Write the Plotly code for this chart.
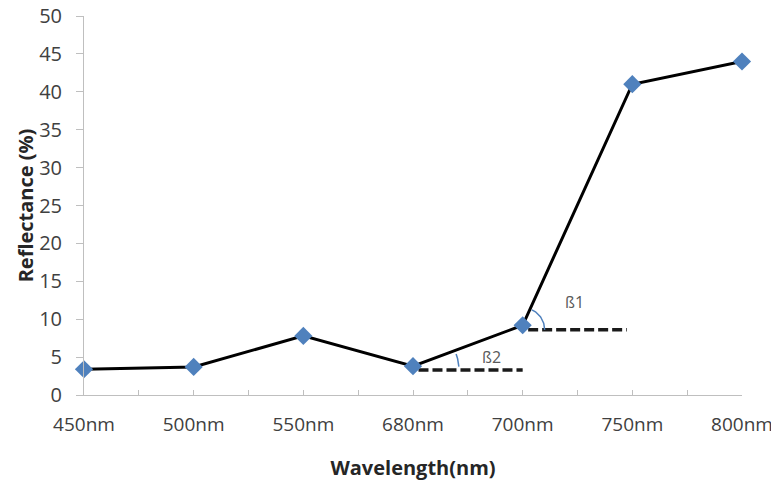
import numpy as np
import plotly.graph_objects as go

categories = ["450nm", "500nm", "550nm", "680nm", "700nm", "750nm", "800nm"]
reflectance = [3.4, 3.7, 7.8, 3.8, 9.2, 41.0, 44.0]

# reference (dashed) lines for the slope angles: x start, x end (category index), y value
beta2_x = [3.05, 4.0]
beta2_y = [3.3, 3.3]
beta1_x = [4.05, 4.95]
beta1_y = [8.6, 8.6]
angle_labels = ["ß1", "ß2"]
label_x = [4.47, 3.72]
label_y = [12.3, 5.0]

x_idx = list(range(len(categories)))

# the page body adds an 8px offset, so the figure is sized/margined to compensate
W, H = 771, 479
ml, mr, mt, mb = 76, 37, 8, 92
px_x = (W - ml - mr) / 6.0
px_y = (H - mt - mb) / 50.0

fig = go.Figure()

# dashed horizontal guides
for xs, ys in [(beta2_x, beta2_y), (beta1_x, beta1_y)]:
    fig.add_trace(go.Scatter(x=xs, y=ys, mode="lines",
                             line=dict(color="#1a1a1a", width=3.5, dash="10px,4px"),
                             hoverinfo="skip", showlegend=False))

# arcs (computed in pixel space around the vertex points)
def arc(i_from, i_to, r_px, y_base):
    x0, y0 = x_idx[i_from], reflectance[i_from]
    dxp = (x_idx[i_to] - x0) * px_x
    dyp = (reflectance[i_to] - y0) * px_y
    ang = np.arctan2(dyp, dxp)
    t = np.linspace(0, ang, 30)
    return x0 + r_px * np.cos(t) / px_x, y_base + r_px * np.sin(t) / px_y

ax1, ay1 = arc(4, 5, 22, beta1_y[0])
ax2, ay2 = arc(3, 4, 46, beta2_y[0])
ax2, ay2 = ax2[6:], ay2[6:]
for ax, ay in [(ax1, ay1), (ax2, ay2)]:
    fig.add_trace(go.Scatter(x=ax, y=ay, mode="lines",
                             line=dict(color="#4F81BD", width=1.5),
                             hoverinfo="skip", showlegend=False))

# main series
fig.add_trace(go.Scatter(x=x_idx, y=reflectance, mode="lines+markers",
                         line=dict(color="#000000", width=3),
                         marker=dict(symbol="diamond", size=14, color="#4F81BD",
                                     line=dict(width=0)),
                         cliponaxis=False,
                         showlegend=False))

for lx, ly, lt in zip(label_x, label_y, angle_labels):
    fig.add_annotation(x=lx, y=ly, text=lt, showarrow=False,
                       font=dict(size=16, color="#595959", family="Open Sans"))

fig.update_layout(
    width=W, height=H,
    margin=dict(l=ml, r=mr, t=mt, b=mb),
    plot_bgcolor="white", paper_bgcolor="white",
    font=dict(family="Open Sans", color="#404040"),
    xaxis=dict(range=[0, 6], tickvals=x_idx, ticktext=categories,
               automargin=False, ticklabeloverflow="allow",
               showgrid=False, zeroline=False, showline=True,
               linecolor="#BFBFBF", linewidth=1,
               ticks="inside", ticklen=5, tickcolor="#BFBFBF",
               minor=dict(dtick=0.5, ticks="inside", ticklen=5, tickcolor="#BFBFBF"),
               tickfont=dict(size=19, color="#404040"),
               ticklabelstandoff=12,
               title=dict(text="<b>Wavelength(nm)</b>", standoff=25,
                          font=dict(size=20, color="#262626"))),
    yaxis=dict(range=[0, 50], dtick=5, showgrid=False, zeroline=False,
               automargin=False, ticklabeloverflow="allow",
               showline=True, linecolor="#BFBFBF", linewidth=1,
               ticks="outside", ticklen=7, tickcolor="#BFBFBF",
               tickfont=dict(size=20, color="#404040"),
               ticklabelstandoff=10,
               title=dict(text="<b>Reflectance (%)</b>", standoff=0,
                          font=dict(size=20, color="#262626"))),
)

fig.write_html("out.html")
